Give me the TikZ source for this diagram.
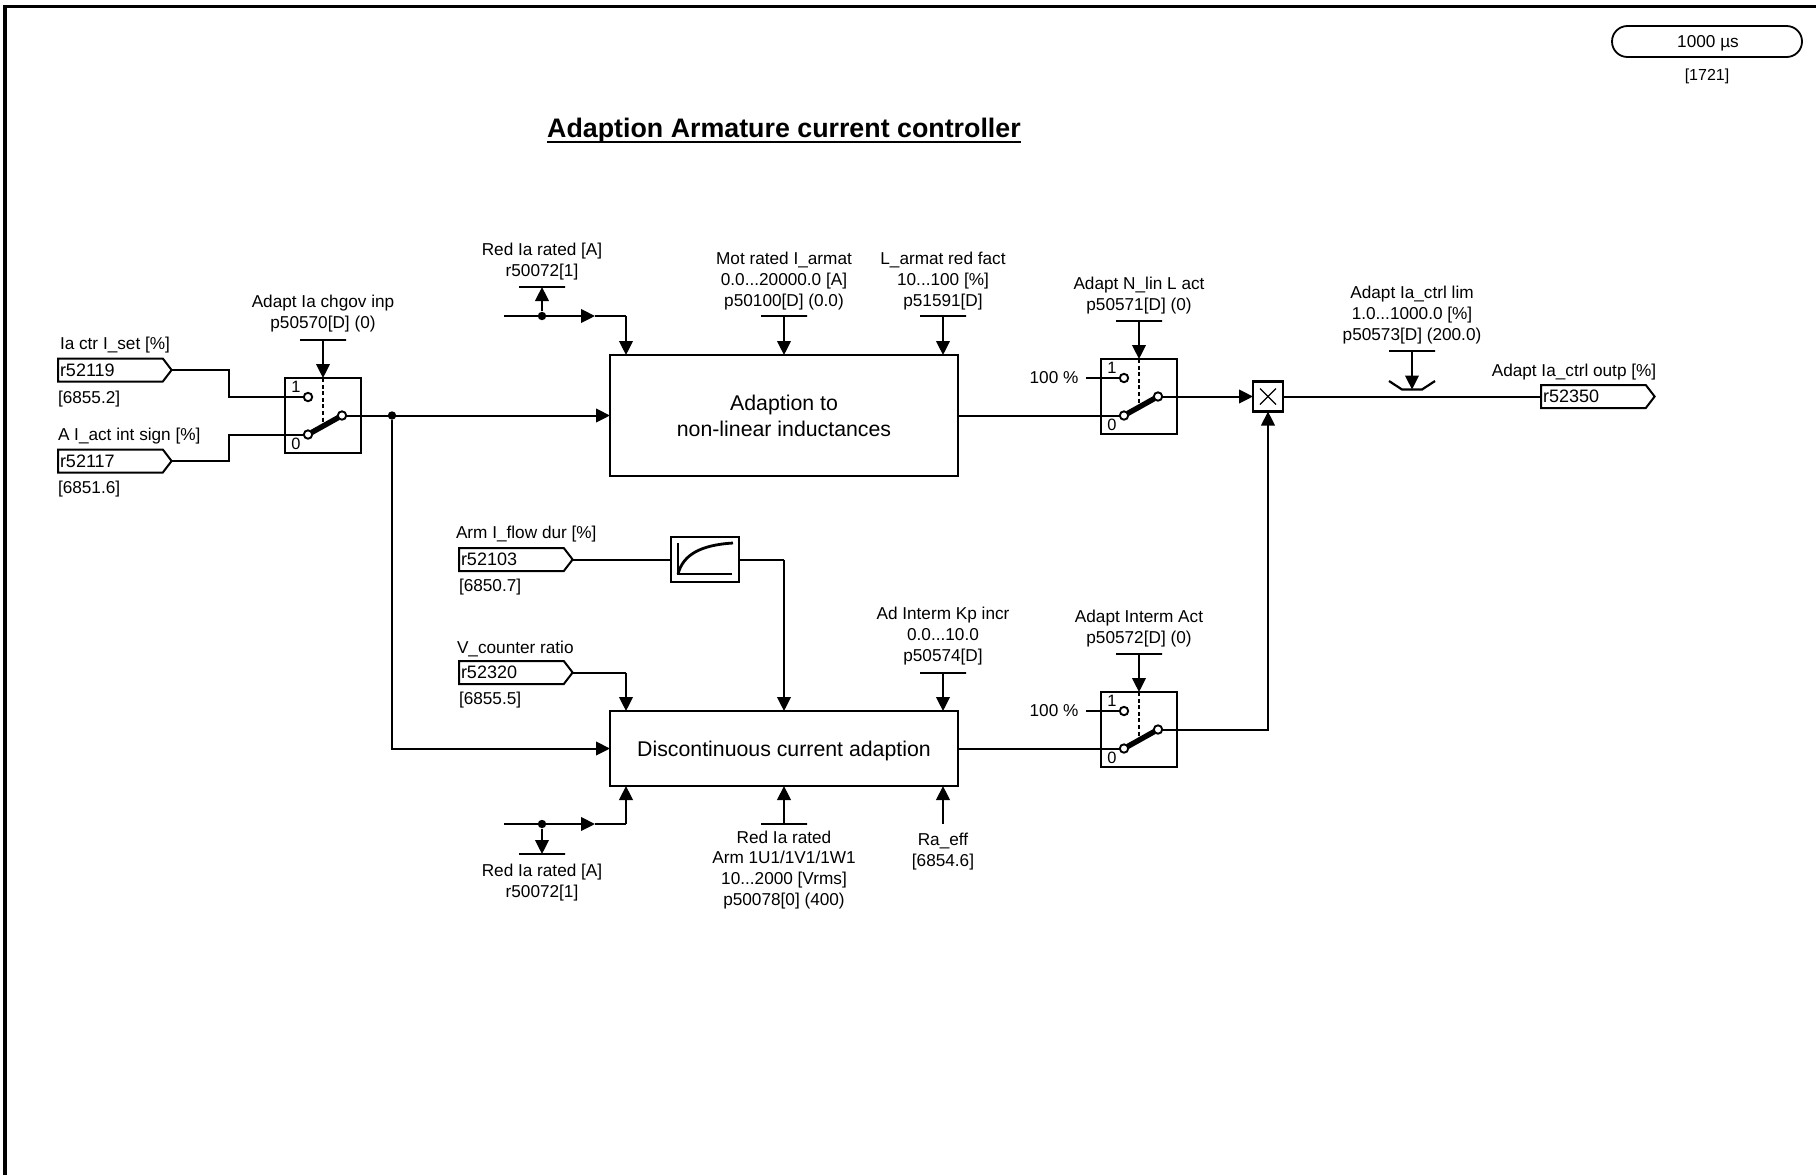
\documentclass[tikz,border=0pt]{standalone}
\usepackage{fontspec}
\setmainfont{Liberation Sans}
\usetikzlibrary{arrows.meta,shapes.symbols,calc}
\newcommand\ulbold[1]{\setbox0\hbox{#1}\leavevmode\rlap{\rule[-2.8pt]{\wd0}{1.1pt}}\box0}
\tikzset{
  wire/.style={line width=1pt},
  arr/.style={wire,-{Triangle[length=7pt,width=6.8pt]}},
  lbl/.style={inner sep=0pt,outer sep=0pt,align=center,yshift=-0.9pt,font=\fontsize{8.6}{10.4}\selectfont},
  lbll/.style={lbl,anchor=west,align=left},
  blockbox/.style={draw,line width=1.05pt,inner sep=0pt,outer sep=0pt,align=center,minimum width=174pt,font=\fontsize{10.65}{13}\selectfont},
  swbox/.style={draw,line width=1.05pt,minimum width=38pt,minimum height=37.5pt,inner sep=0pt,outer sep=0pt,anchor=north west},
  contact/.style={draw,circle,fill=white,line width=0.95pt,inner sep=0pt,minimum size=4.2pt,outer sep=0pt},
  junction/.style={fill,circle,inner sep=0pt,minimum size=4.2pt},
  tagbox/.style={draw,line width=1pt,signal,signal to=east,signal pointer angle=105,inner xsep=1pt,inner ysep=0pt,outer sep=0pt,text width=50.4pt,minimum height=11.5pt,align=left,anchor=west,font=\fontsize{9}{10}\selectfont},
  barnode/.style={draw,line width=1pt,inner sep=0pt,outer sep=0pt,minimum height=0pt,minimum width=23pt},
  mini/.style={inner sep=0pt,font=\fontsize{8.2}{9}\selectfont},
}
\newcommand\mkswitch[3]{%
  \node[swbox] (#1) at (#2,#3) {};
  \node[contact] (#1a) at ({#2+23},{#3+19}) {};
  \node[contact] (#1b) at ({#2+23},{#3+56.5}) {};
  \node[contact] (#1c) at ({#2+57},{#3+37.5}) {};
  \node[mini] (#1one) at ({#2+11},{#3+9}) {1};
  \node[mini] (#1zero) at ({#2+11},{#3+66}) {0};
  \coordinate (#1d) at ({#2+38},{#3+44});
  \draw[line width=2.7pt] (#1b) -- (#1c);
  \draw[wire,dash pattern=on 2pt off 1.3pt] (#1.north) -- (#1d);
}
\begin{document}
\begin{tikzpicture}[x=0.5pt,y=-0.5pt]
\useasboundingbox (0,0) rectangle (1816,1175);
% frame
\coordinate (fa) at (5,1175); \coordinate (fb) at (5,6.5); \coordinate (fc) at (1816,6.5);
\draw[line width=1.8pt,line join=miter] (fa) -- (fb) -- (fc);
% title
\node[inner sep=0pt,font=\fontsize{13.4}{16}\selectfont\bfseries] (title) at (784,130.5) {\ulbold{Adaption Armature current controller}};
% pill
\node[draw,line width=0.9pt,rounded corners=7.7pt,minimum width=95pt,minimum height=15.5pt,inner sep=0pt,lbl,yshift=0.9pt] (pill) at (1707,41.5) {};
\node[lbl] (pilltext) at (1708,41.5) {1000 µs};
\node[lbl,font=\fontsize{8}{10}\selectfont] (pillref) at (1707,75) {[1721]};
% blocks
\node[blockbox,minimum height=60.5pt] (blk1) at (784,415.5) {Adaption to\\non-linear inductances};
\node[blockbox,minimum height=37.5pt,text depth=0pt] (blk2) at (784,748.5) {Discontinuous current adaption};
% switches
\mkswitch{swA}{285}{378}
\mkswitch{swB}{1101}{359}
\mkswitch{swC}{1101}{692}
% tags
\node[tagbox] (t1) at (58,370) {r52119};
\node[tagbox] (t2) at (58,461) {r52117};
\node[tagbox] (t3) at (459,559.5) {r52103};
\node[tagbox] (t4) at (459,672.5) {r52320};
\node[tagbox] (t5) at (1541,396.5) {r52350};
\node[lbll] (l1) at (60,343) {Ia ctr I\_set [\%]};
\node[lbll] (l1r) at (58,397) {[6855.2]};
\node[lbll] (l2) at (58,434) {A I\_act int sign [\%]};
\node[lbll] (l2r) at (58,487) {[6851.6]};
\node[lbll] (l3) at (456,532) {Arm I\_flow dur [\%]};
\node[lbll] (l3r) at (459,585) {[6850.7]};
\node[lbll] (l4) at (457,647) {V\_counter ratio};
\node[lbll] (l4r) at (459,698) {[6855.5]};
\node[lbl] (l5) at (1574,370) {Adapt Ia\_ctrl outp [\%]};
% parameter labels
\node[lbl] (pA) at (323,311.5) {Adapt Ia chgov inp\\p50570[D] (0)};
\node[lbl] (pB) at (1139,293.5) {Adapt N\_lin L act\\p50571[D] (0)};
\node[lbl] (pC) at (1139,626.5) {Adapt Interm Act\\p50572[D] (0)};
\node[lbl] (pR1) at (542,260) {Red Ia rated [A]\\r50072[1]};
\node[lbl] (pM) at (784,279) {Mot rated I\_armat\\0.0...20000.0 [A]\\p50100[D] (0.0)};
\node[lbl] (pL) at (943,279) {L\_armat red fact\\10...100 [\%]\\p51591[D]};
\node[lbl] (pK) at (943,634) {Ad Interm Kp incr\\0.0...10.0\\p50574[D]};
\node[lbl] (pLim) at (1412,313) {Adapt Ia\_ctrl lim\\1.0...1000.0 [\%]\\p50573[D] (200.0)};
\node[lbl] (pR2) at (542,880.5) {Red Ia rated [A]\\r50072[1]};
\node[lbl] (pV) at (784,868) {Red Ia rated\\Arm 1U1/1V1/1W1\\10...2000 [Vrms]\\p50078[0] (400)};
\node[lbl] (pRa) at (943,850) {Ra\_eff\\{}[6854.6]};
\node[lbl,yshift=0.9pt] (h1) at (1054,378) {100 \%};
\node[lbl,yshift=0.9pt] (h2) at (1054,711) {100 \%};
% bars
\node[barnode] (bA) at (323,340) {};
\node[barnode] (bB) at (1139,321) {};
\node[barnode] (bC) at (1139,654) {};
\node[barnode] (bR1) at (542,287) {};
\node[barnode] (bM) at (784,316) {};
\node[barnode] (bL) at (943,316) {};
\node[barnode] (bK) at (943,673) {};
\node[barnode] (bLim) at (1412,351) {};
\node[barnode] (bR2) at (542,854) {};
\node[barnode] (bV) at (784,824) {};
\coordinate (bRa) at (943,824);
% switch A inputs
\coordinate (k1) at (229,397); \coordinate (k2) at (229,434.5);
\draw[wire] (t1.east) -| (k1) -- (swAa);
\draw[wire] (t2.east) -| (k2) -- (swAb);
\draw[arr] (bA.south) -- (swA.north);
\draw[arr] (bB.south) -- (swB.north);
\draw[arr] (bC.south) -- (swC.north);
% main path
\node[junction] (j1) at (392,415.5) {};
\draw[arr] (swAc) -- (swAc -| blk1.west);
\draw[arr] (j1) |- (blk2.west);
\draw[wire] (blk1.east) -- (swBb);
\draw[wire] (blk2.east) -- (swCb);
% top inputs
\coordinate (r1s) at (504,316); \coordinate (r1m) at (595,316); \coordinate (r1c) at (626,316);
\node[junction] (j2) at (542,316) {};
\draw[arr] (j2) -- (bR1.south);
\draw[arr] (r1s) -- (r1m);
\draw[wire] (r1m) -- (r1c);
\draw[arr] (r1c) -- (r1c |- blk1.north);
\draw[arr] (bM.south) -- (bM.south |- blk1.north);
\draw[arr] (bL.south) -- (bL.south |- blk1.north);
% bottom inputs
\coordinate (r2s) at (504,824); \coordinate (r2m) at (595,824); \coordinate (r2c) at (626,824);
\node[junction] (j3) at (542,824) {};
\draw[arr] (j3) -- (bR2.north);
\draw[arr] (r2s) -- (r2m);
\draw[wire] (r2m) -- (r2c);
\draw[arr] (r2c) -- (r2c |- blk2.south);
\draw[arr] (bV.north) -- (bV.north |- blk2.south);
\draw[arr] (bRa) -- (bRa |- blk2.south);
% filter
\node[draw,line width=1.05pt,minimum width=34pt,minimum height=22.5pt,inner sep=0pt,outer sep=0pt] (filt) at (705,559.5) {};
\draw[wire] (t3.east) -- (filt.west);
\coordinate (fk) at (784,559.5);
\draw[wire] (filt.east) -- (fk);
\draw[arr] (fk) -- (fk |- blk2.north);
\coordinate (ax1) at (678,543); \coordinate (ax2) at (678,574); \coordinate (ax3) at (732,574); \coordinate (ax4) at (733,543);
\draw[line width=0.7pt] (ax1) -- (ax2) -- (ax3);
\draw[line width=1.4pt] (ax2) .. controls (683,555) and (700,545) .. (ax4);
\coordinate (vk) at (626,672.5);
\draw[wire] (t4.east) -- (vk);
\draw[arr] (vk) -- (vk |- blk2.north);
\draw[arr] (bK.south) -- (bK.south |- blk2.north);
% 100 %
\coordinate (h1e) at (1086,378); \coordinate (h2e) at (1086,711);
\draw[wire] (h1e) -- (swBa);
\draw[wire] (h2e) -- (swCa);
% multiplier
\node[draw,line width=1.05pt,minimum size=15pt,inner sep=0pt,outer sep=0pt] (mul) at (1268,396.5) {};
\draw[line width=0.6pt] ($(mul.center)+(-8,-8)$) -- ($(mul.center)+(8,8)$);
\draw[line width=0.6pt] ($(mul.center)+(-8,8)$) -- ($(mul.center)+(8,-8)$);
\draw[arr] (swBc) -- (mul.west);
\coordinate (mk) at (1268,560);
\draw[wire] (swCc) -| (mk);
\draw[arr] (mk) -- (mul.south);
\draw[wire] (mul.east) -- (t5.west);
% limiter
\coordinate (cup1) at (1389,381); \coordinate (cup2) at (1402,389.5); \coordinate (cup3) at (1422,389.5); \coordinate (cup4) at (1435,381);
\draw[line width=1.1pt] (cup1) -- (cup2) -- (cup3) -- (cup4);
\draw[arr] (bLim.south) -- (bLim.south |- cup2);
\end{tikzpicture}
\end{document}
